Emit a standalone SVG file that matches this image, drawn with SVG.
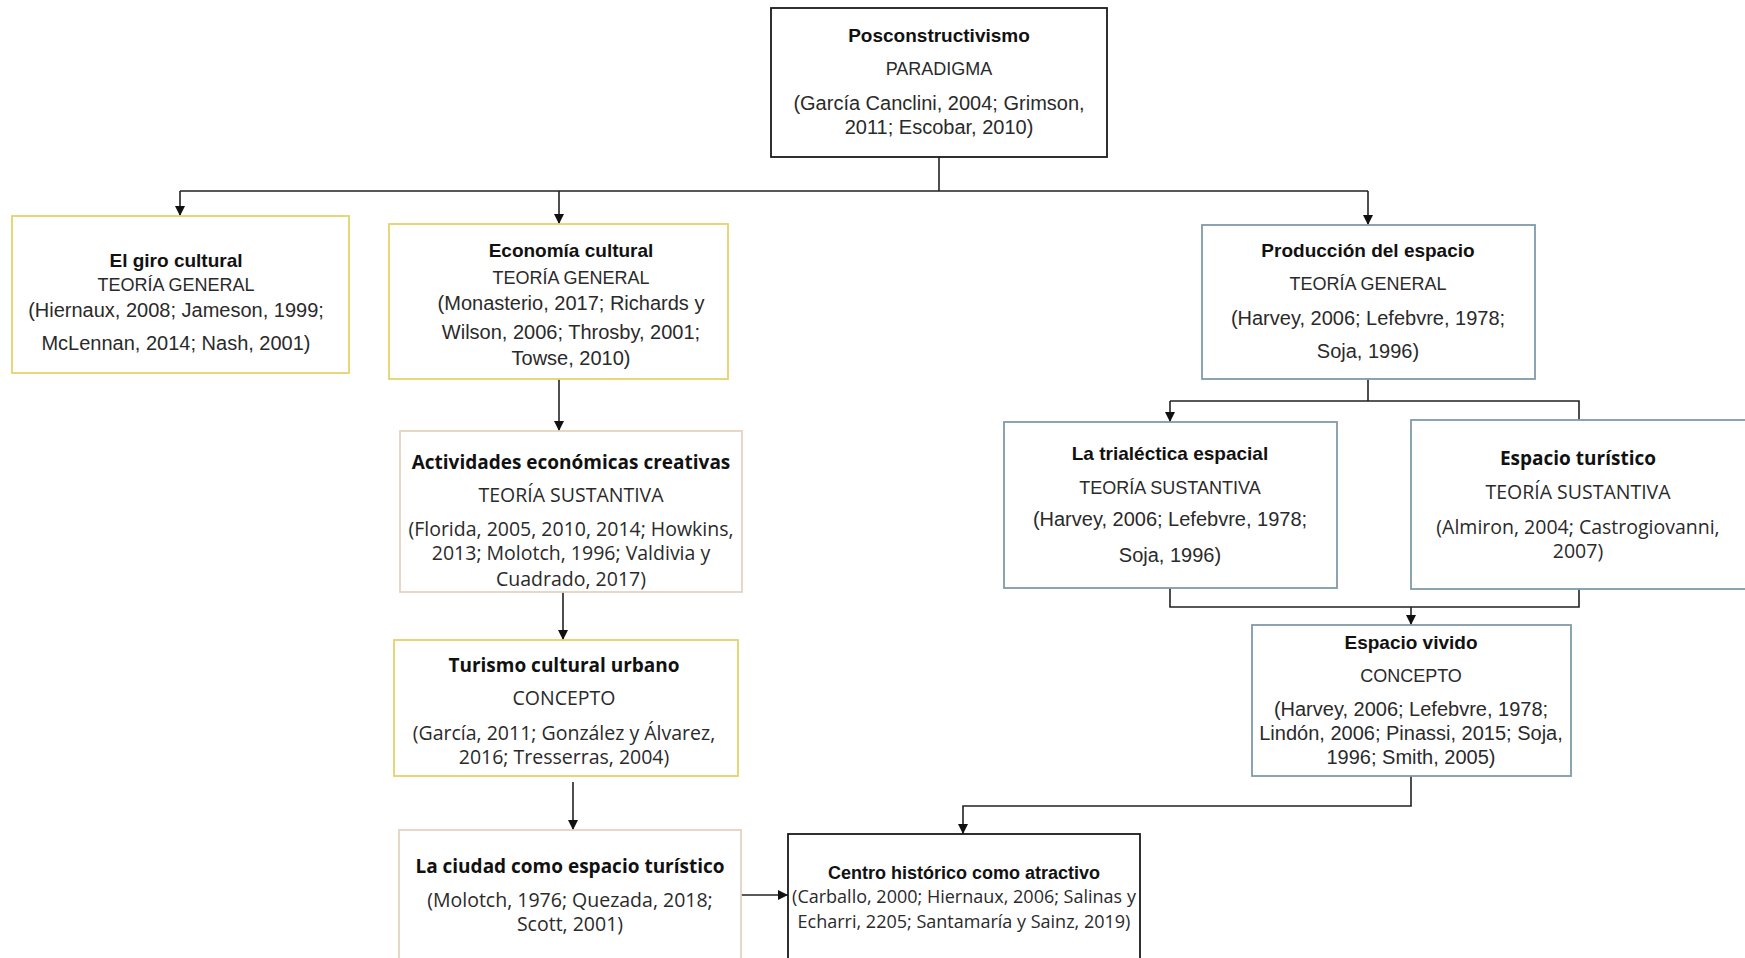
<svg xmlns="http://www.w3.org/2000/svg" width="1745" height="958" viewBox="0 0 1745 958">
<style>
.bg{fill:#ffffff}
.box{fill:#ffffff;stroke-width:1.8}
.blk{stroke:#1a1a1a}
.gold{stroke:#e6d36c}
.tan{stroke:#e4d3c0}
.blue{stroke:#7f9aaa}
text{text-anchor:middle;fill:#2a2a2a}
.c{font-family:"Liberation Sans",Arial,sans-serif}
.s{font-family:"Open Sans","Liberation Sans",sans-serif}
.t{font-weight:bold;font-size:19px;fill:#111}
.k{font-size:18px}
.r{font-size:20px}
.rs{font-size:19.5px}
.conn{fill:none;stroke:#222;stroke-width:1.6}
</style>
<defs>
<marker id="ah" viewBox="0 0 10 10" refX="10" refY="5" markerWidth="10" markerHeight="11" markerUnits="userSpaceOnUse" orient="auto">
<path d="M0,0 L10,5 L0,10 z" fill="#111"/>
</marker>
</defs>
<rect class="bg" x="0" y="0" width="1745" height="958"/>

<g id="connectors">
<path class="conn" d="M939,157 V191 M180,191 H1368"/>
<path class="conn" d="M180,191 V216" marker-end="url(#ah)"/>
<path class="conn" d="M559,191 V224" marker-end="url(#ah)"/>
<path class="conn" d="M1368,191 V225" marker-end="url(#ah)"/>
<path class="conn" d="M559,379 V431" marker-end="url(#ah)"/>
<path class="conn" d="M563,592 V640" marker-end="url(#ah)"/>
<path class="conn" d="M573,782 V830" marker-end="url(#ah)"/>
<path class="conn" d="M1368,379 V401 M1170,401 H1579 V420"/>
<path class="conn" d="M1170,401 V422" marker-end="url(#ah)"/>
<path class="conn" d="M1170,588 V607 H1579 V589"/>
<path class="conn" d="M1411,607 V625" marker-end="url(#ah)"/>
<path class="conn" d="M1411,776 V806 H963 V834" marker-end="url(#ah)"/>
<path class="conn" d="M741,895 H788" marker-end="url(#ah)"/>
</g>

<g id="posconstructivismo">
<rect class="box blk" x="771" y="8" width="336" height="149"/>
<text class="c t" x="939" y="42">Posconstructivismo</text>
<text class="c k" x="939" y="75">PARADIGMA</text>
<text class="c r" x="939" y="110">(García Canclini, 2004; Grimson,</text>
<text class="c r" x="939" y="134">2011; Escobar, 2010)</text>
</g>

<g id="giro-cultural">
<rect class="box gold" x="12" y="216" width="337" height="157"/>
<text class="c t" x="176" y="267">El giro cultural</text>
<text class="c k" x="176" y="291">TEORÍA GENERAL</text>
<text class="c r" x="176" y="317">(Hiernaux, 2008; Jameson, 1999;</text>
<text class="c r" x="176" y="350">McLennan, 2014; Nash, 2001)</text>
</g>

<g id="economia-cultural">
<rect class="box gold" x="389" y="224" width="339" height="155"/>
<text class="c t" x="571" y="257">Economía cultural</text>
<text class="c k" x="571" y="284">TEORÍA GENERAL</text>
<text class="c r" x="571" y="310">(Monasterio, 2017; Richards y</text>
<text class="c r" x="571" y="339">Wilson, 2006; Throsby, 2001;</text>
<text class="c r" x="571" y="365">Towse, 2010)</text>
</g>

<g id="actividades">
<rect class="box tan" x="400" y="431" width="342" height="161"/>
<text class="s t" x="571" y="469">Actividades económicas creativas</text>
<text class="s rs" x="571" y="502">TEORÍA SUSTANTIVA</text>
<text class="s rs" x="571" y="536">(Florida, 2005, 2010, 2014; Howkins,</text>
<text class="s rs" x="571" y="560">2013; Molotch, 1996; Valdivia y</text>
<text class="s rs" x="571" y="586">Cuadrado, 2017)</text>
</g>

<g id="turismo-cultural">
<rect class="box gold" x="394" y="640" width="344" height="136"/>
<text class="s t" x="564" y="672">Turismo cultural urbano</text>
<text class="s rs" x="564" y="705">CONCEPTO</text>
<text class="s rs" x="564" y="740">(García, 2011; González y Álvarez,</text>
<text class="s rs" x="564" y="764">2016; Tresserras, 2004)</text>
</g>

<g id="ciudad">
<rect class="box tan" x="399" y="830" width="342" height="140"/>
<text class="s t" x="570" y="873">La ciudad como espacio turístico</text>
<text class="s rs" x="570" y="907">(Molotch, 1976; Quezada, 2018;</text>
<text class="s rs" x="570" y="931">Scott, 2001)</text>
</g>

<g id="centro">
<rect class="box blk" x="788" y="834" width="352" height="140"/>
<text class="c t" x="964" y="879" style="font-size:18px">Centro histórico como atractivo</text>
<text class="s" x="964" y="903" style="font-size:18px">(Carballo, 2000; Hiernaux, 2006; Salinas y</text>
<text class="s" x="964" y="928" style="font-size:18px">Echarri, 2205; Santamaría y Sainz, 2019)</text>
</g>

<g id="produccion">
<rect class="box blue" x="1202" y="225" width="333" height="154"/>
<text class="c t" x="1368" y="257">Producción del espacio</text>
<text class="c k" x="1368" y="290">TEORÍA GENERAL</text>
<text class="c r" x="1368" y="325">(Harvey, 2006; Lefebvre, 1978;</text>
<text class="c r" x="1368" y="358">Soja, 1996)</text>
</g>

<g id="trialectica">
<rect class="box blue" x="1004" y="422" width="333" height="166"/>
<text class="c t" x="1170" y="460">La trialéctica espacial</text>
<text class="c k" x="1170" y="494">TEORÍA SUSTANTIVA</text>
<text class="c r" x="1170" y="526">(Harvey, 2006; Lefebvre, 1978;</text>
<text class="c r" x="1170" y="562">Soja, 1996)</text>
</g>

<g id="espacio-turistico">
<rect class="box blue" x="1411" y="420" width="345" height="169"/>
<text class="s t" x="1578" y="465">Espacio turístico</text>
<text class="s rs" x="1578" y="499">TEORÍA SUSTANTIVA</text>
<text class="s rs" x="1578" y="534">(Almiron, 2004; Castrogiovanni,</text>
<text class="s rs" x="1578" y="558">2007)</text>
</g>

<g id="espacio-vivido">
<rect class="box blue" x="1252" y="625" width="319" height="151"/>
<text class="c t" x="1411" y="649">Espacio vivido</text>
<text class="c k" x="1411" y="682">CONCEPTO</text>
<text class="c r" x="1411" y="716">(Harvey, 2006; Lefebvre, 1978;</text>
<text class="c r" x="1411" y="740">Lindón, 2006; Pinassi, 2015; Soja,</text>
<text class="c r" x="1411" y="764">1996; Smith, 2005)</text>
</g>
</svg>
